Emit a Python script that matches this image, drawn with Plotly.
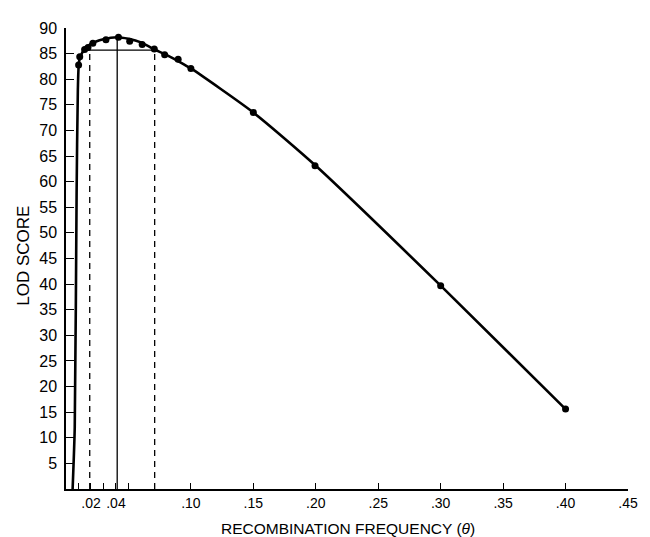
import plotly.graph_objects as go

# smooth fitted LOD curve
curve_theta = [0.0053, 0.007, 0.0085, 0.0095, 0.0105, 0.013, 0.015, 0.02, 0.03, 0.041,
               0.05, 0.06, 0.07, 0.08, 0.09, 0.10, 0.15, 0.20, 0.30, 0.40]
curve_lod = [0.0, 12.0, 58.0, 78.0, 83.5, 85.2, 85.8, 86.9, 87.8, 88.2,
             87.9, 87.2, 85.9, 84.8, 83.5, 82.1, 73.5, 63.1, 39.7, 15.6]

# observed points
dot_theta = [0.0101, 0.011, 0.0149, 0.0176, 0.0215, 0.032, 0.042, 0.051, 0.061,
             0.0707, 0.079, 0.0898, 0.10, 0.15, 0.1994, 0.30, 0.40]
dot_lod = [82.8, 84.4, 85.8, 86.2, 87.0, 87.7, 88.2, 87.4, 86.8,
           85.9, 84.8, 83.9, 82.1, 73.5, 63.1, 39.7, 15.6]

# support interval / maximum markers
max_theta = 0.041
max_lod = 88.2
interval_lod = 85.7
interval_left = 0.0155
interval_right = 0.0705
dashed_theta = [0.019, 0.071]

x_tickvals = [0.01, 0.02, 0.03, 0.04, 0.05, 0.10, 0.15, 0.20, 0.25, 0.30, 0.35, 0.40, 0.45]
x_ticktext = ["", ".02", "", ".04", "", ".10", ".15", ".20", ".25", ".30", ".35", ".40", ".45"]
y_tickvals = [5, 10, 15, 20, 25, 30, 35, 40, 45, 50, 55, 60, 65, 70, 75, 80, 85, 90]

FONT = "Liberation Sans"

# page body has an 8px margin; compensate so the plot area lands where it should
W, H = 642, 529
ML, MR, MT, MB = 58, 13, 12, 48
OFF = 8

fig = go.Figure()

fig.add_trace(go.Scatter(x=[max_theta, max_theta], y=[0, max_lod], mode="lines",
                         line=dict(color="black", width=1.3), showlegend=False, hoverinfo="skip"))
for t in dashed_theta:
    fig.add_trace(go.Scatter(x=[t, t], y=[0, interval_lod], mode="lines",
                             line=dict(color="black", width=1.3, dash="6px,5px"),
                             showlegend=False, hoverinfo="skip"))
fig.add_trace(go.Scatter(x=[interval_left, interval_right], y=[interval_lod, interval_lod], mode="lines",
                         line=dict(color="black", width=1.3), showlegend=False, hoverinfo="skip"))
fig.add_trace(go.Scatter(x=curve_theta, y=curve_lod, mode="lines",
                         line=dict(color="black", width=2.6, shape="spline", smoothing=0.6),
                         showlegend=False))
fig.add_trace(go.Scatter(x=dot_theta, y=dot_lod, mode="markers",
                         marker=dict(color="black", size=7), showlegend=False))

pw = W - ML - MR
ph = H - MT - MB
left_px = OFF + ML
top_px = OFF + MT


def to_paper(px, py):
    return (px - left_px) / pw, 1 - (py - top_px) / ph


tx, ty = to_paper(353, 529)
lx, ly = to_paper(22, 252)

fig.update_layout(
    width=W, height=H,
    margin=dict(l=ML, r=MR, t=MT, b=MB),
    paper_bgcolor="white", plot_bgcolor="white",
    font=dict(family=FONT, color="black", size=15),
    xaxis=dict(range=[0, 0.45], tickvals=x_tickvals, ticktext=x_ticktext,
               ticks="inside", ticklen=6, tickwidth=1.3, tickcolor="black",
               showline=True, linecolor="black", linewidth=1.5,
               showgrid=False, zeroline=False, tickfont=dict(size=14)),
    yaxis=dict(range=[0, 90], tickvals=y_tickvals,
               ticks="inside", ticklen=8, tickwidth=1.3, tickcolor="black",
               showline=True, linecolor="black", linewidth=1.5,
               showgrid=False, zeroline=False, ticklabelstandoff=4,
               tickfont=dict(size=16)),
    annotations=[
        dict(text="RECOMBINATION FREQUENCY (<i>θ</i>)", x=tx, y=ty, xref="paper", yref="paper",
             xanchor="center", yanchor="middle", showarrow=False,
             font=dict(size=15.5, family=FONT)),
        dict(text="LOD SCORE", x=lx, y=ly, textangle=-90, xref="paper", yref="paper",
             xanchor="center", yanchor="middle", showarrow=False,
             font=dict(size=17, family=FONT)),
    ],
)

fig.write_html("out.html")
